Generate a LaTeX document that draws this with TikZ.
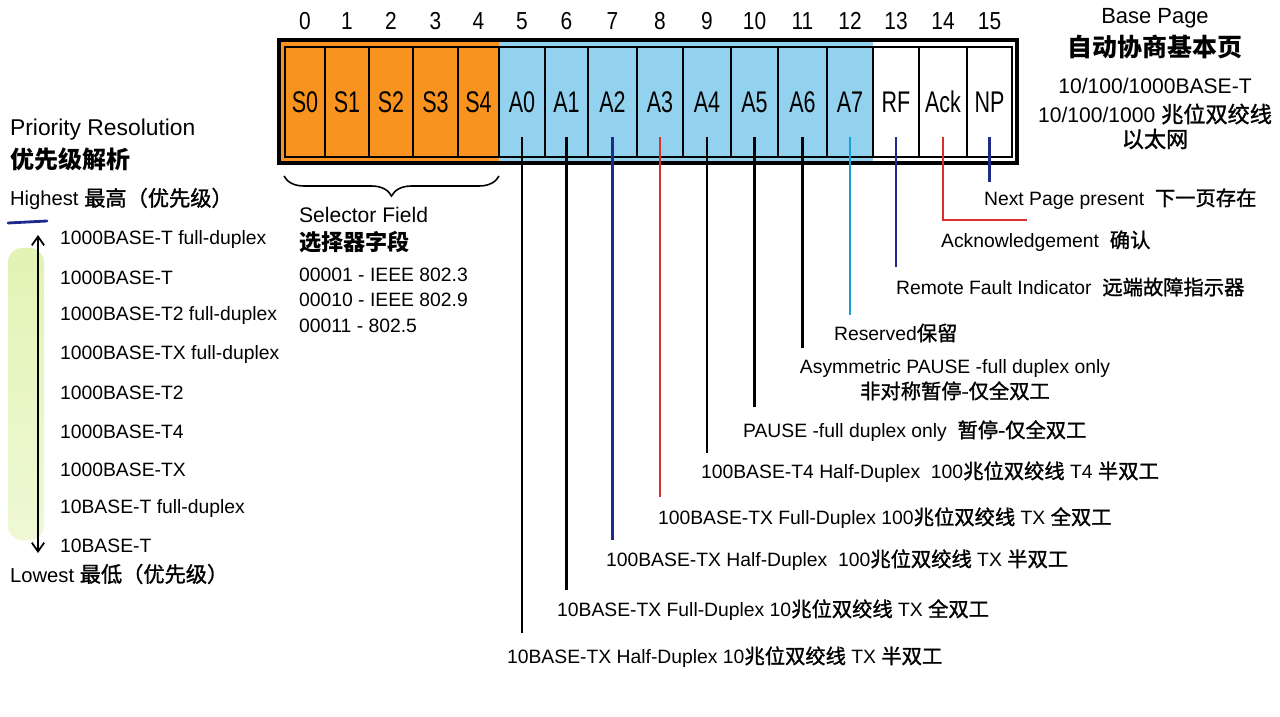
\documentclass[tikz,border=0pt]{standalone}
\usepackage{fontspec}
\setmainfont{Liberation Sans}
\newfontfamily\cjk[Scale=1.05]{Noto Sans CJK SC}
\newfontfamily\cjkm[Scale=1.05, FakeBold=1.3]{Noto Sans CJK SC}
\newfontfamily\cellfont[FakeStretch=0.72]{Liberation Sans}
\newfontfamily\numfont[FakeStretch=0.85]{Liberation Sans}
\usetikzlibrary{decorations.pathreplacing,arrows.meta}
\newcommand{\zh}[1]{{\cjkm #1}}
\newcommand{\zhb}[1]{{\cjk\bfseries #1}}
\definecolor{sorange}{HTML}{F7931E}
\definecolor{sblue}{HTML}{93D2EF}
\definecolor{navyline}{HTML}{1E2A8C}
\definecolor{redline}{HTML}{D9302C}
\definecolor{cyanline}{HTML}{1A9ED6}
\definecolor{scrib}{HTML}{CDEB7A}
\tikzset{
  cell/.style={draw=black, line width=0.9pt, minimum height=2.2cm, inner sep=0pt,
    font=\cellfont\fontsize{17}{20}\selectfont},
  num/.style={inner sep=0pt, font=\numfont\fontsize{14}{16}\selectfont},
  lab/.style={anchor=west, inner sep=1pt, font=\fontsize{11}{13}\selectfont},
  head/.style={anchor=west, inner sep=1pt, font=\fontsize{13}{15}\selectfont},
  lead/.style={line width=1.5pt},
}
\begin{document}
\begin{tikzpicture}[x=0.02cm,y=-0.02cm]
\path[use as bounding box, fill=white] (0,0) rectangle (1280,716);

% register background fills
\fill[sorange] (279,40) rectangle (499,163);
\fill[sblue] (499,40) rectangle (873,163);

% cells
\foreach \i/\l/\r/\t/\c in {0/285/325/S0/sorange, 1/325/369/S1/sorange, 2/369/413/S2/sorange,
  3/413/458/S3/sorange, 4/458/499/S4/sorange, 5/499/545/A0/sblue, 6/545/588/A1/sblue,
  7/588/637/A2/sblue, 8/637/683/A3/sblue, 9/683/731/A4/sblue, 10/731/778/A5/sblue,
  11/778/827/A6/sblue, 12/827/873/A7/sblue, 13/873/919/RF/white, 14/919/967/Ack/white,
  15/967/1012/NP/white}{
  \node[cell, fill=\c, minimum width={(\r-\l)*0.02cm}] (c\i) at ({(\l+\r)/2},102) {\t};
  \node[num] (n\i) at ([yshift=0.5cm]c\i.north) {\i};
}
\draw[line width=2.2pt] (279,40) rectangle (1017,163);

% brace under selector field
\coordinate (bl) at (284,176);
\coordinate (br) at (499,176);
\draw[line width=0.9pt, decorate, decoration={brace, mirror, amplitude=0.4cm}] (bl) -- (br);

% selector field text
\node[lab, font=\fontsize{12}{14}\selectfont] (sf1) at (297,215) {Selector Field};
\node[lab] (sf2) at (297,242) {\zhb{\fontsize{12}{14}\selectfont 选择器字段}};
\node[lab] (sf3) at (297,275) {00001 - IEEE 802.3};
\node[lab] (sf4) at (297,300) {00010 - IEEE 802.9};
\node[lab] (sf5) at (297,326) {00011 - 802.5};

% base page header
\node[inner sep=1pt, font=\fontsize{12.5}{15}\selectfont] (hb1) at (1155,18) {Base Page};
\node[inner sep=1pt] (hb2) at (1155,47) {\zhb{\fontsize{13.5}{16}\selectfont 自动协商基本页}};
\node[inner sep=1pt, font=\fontsize{12}{14}\selectfont] (hb3) at (1155,86) {10/100/1000BASE-T};
\node[inner sep=1pt, font=\fontsize{12}{14}\selectfont] (hb4) at (1155,114) {10/100/1000 \zh{兆位双绞线}};
\node[inner sep=1pt, font=\fontsize{12}{14}\selectfont] (hb5) at (1155,139) {\zh{以太网}};

% priority resolution
\node[head] (pr1) at (8,130) {Priority Resolution};
\node[head] (pr2) at (8,159) {\zhb{优先级解析}};
\node[lab, font=\fontsize{11.5}{13}\selectfont] (hi) at (8,199) {Highest \zh{最高（优先级）}};
\coordinate (bs1) at (8,223);
\coordinate (bs2) at (47,221);
\draw[navyline, line width=1.6pt, line cap=round] (bs1) -- (bs2);
\shade[top color=scrib!70, bottom color=scrib!40, opacity=0.8, rounded corners=8pt] (8,248) rectangle (44,540);
\coordinate (ptop) at (38,235);
\coordinate (pbot) at (38,553);
\draw[line width=1pt, {Straight Barb[length=5pt,width=7pt]}-{Straight Barb[length=5pt,width=7pt]}] (ptop) -- (pbot);
\foreach \k/\y/\t in {1/240/1000BASE-T full-duplex, 2/278/1000BASE-T, 3/316/1000BASE-T2 full-duplex,
  4/355/1000BASE-TX full-duplex, 5/393/1000BASE-T2, 6/432/1000BASE-T4, 7/470/1000BASE-TX,
  8/508/10BASE-T full-duplex, 9/546/10BASE-T}{
  \node[lab] (p\k) at (58,\y) {\t};
}
\node[lab, font=\fontsize{11.5}{13}\selectfont] (lo) at (8,574) {Lowest \zh{最低（优先级）}};

% leader line end points
\foreach \i/\ey in {5/633, 6/590, 7/540, 8/497, 9/453, 10/407, 11/348, 12/315, 13/267, 14/220, 15/182}{
  \coordinate (e\i) at (0,\ey);
}
\foreach \i/\col in {5/black, 6/black, 7/navyline, 8/redline, 9/black, 10/black, 11/black,
  12/cyanline, 13/navyline, 15/navyline}{
  \draw[lead, \col] ([yshift=-0.7cm]c\i.center) -- (c\i.center |- e\i);
}
\coordinate (ea) at (1027,220);
\draw[lead, redline] ([yshift=-0.7cm]c14.center) -- (c14.center |- e14) -- (ea);

% bit labels
\node[lab] (lnp) at (982,199) {Next Page present\ \ \zh{下一页存在}};
\node[lab] (lack) at (939,241) {Acknowledgement\ \ \zh{确认}};
\node[lab] (lrf) at (894,287) {Remote Fault Indicator\ \ \zh{远端故障指示器}};
\node[lab] (la7) at (832,333) {Reserved\zh{保留}};
\node[inner sep=1pt, align=center, font=\fontsize{11}{14.2}\selectfont] (la6) at (955,380)
  {Asymmetric PAUSE -full duplex only\\ \zh{非对称暂停-仅全双工}};
\node[lab] (la5) at (741,431) {PAUSE -full duplex only\ \ \zh{暂停-仅全双工}};
\node[lab] (la4) at (699,472) {100BASE-T4 Half-Duplex\ \ 100\zh{兆位双绞线} T4 \zh{半双工}};
\node[lab] (la3) at (656,518) {100BASE-TX Full-Duplex 100\zh{兆位双绞线} TX \zh{全双工}};
\node[lab] (la2) at (604,560) {100BASE-TX Half-Duplex\ \ 100\zh{兆位双绞线} TX \zh{半双工}};
\node[lab] (la1) at (555,610) {10BASE-TX Full-Duplex 10\zh{兆位双绞线} TX \zh{全双工}};
\node[lab] (la0) at (505,657) {10BASE-TX Half-Duplex 10\zh{兆位双绞线} TX \zh{半双工}};
\end{tikzpicture}
\end{document}
